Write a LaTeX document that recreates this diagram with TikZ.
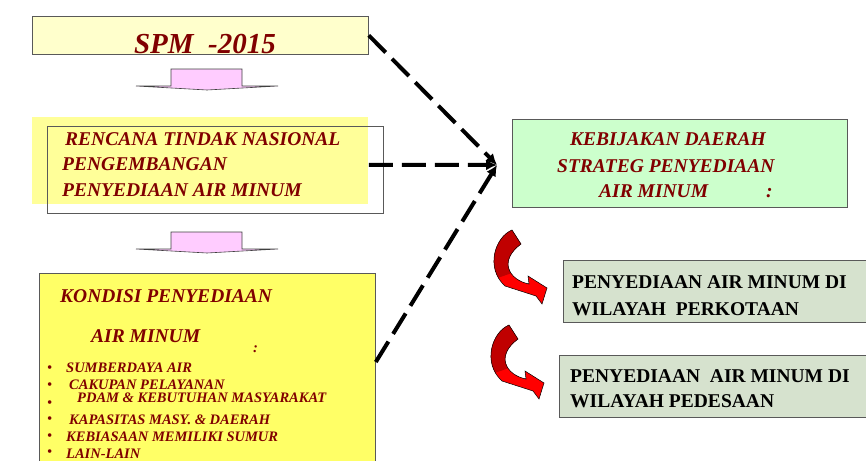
\documentclass[tikz,border=0pt]{standalone}
\usepackage{fontspec}
\setmainfont{Liberation Serif}
\usetikzlibrary{arrows.meta, calc, positioning}
\definecolor{spmyellow}{RGB}{255,255,204}
\definecolor{rtnyellow}{RGB}{255,255,153}
\definecolor{kondyellow}{RGB}{255,255,102}
\definecolor{kebgreen}{RGB}{204,255,204}
\definecolor{wilgray}{RGB}{214,226,206}
\definecolor{arrowpink}{RGB}{255,204,255}
\definecolor{textmaroon}{RGB}{128,0,0}
\definecolor{arrowred}{RGB}{255,0,0}
\definecolor{arrowdark}{RGB}{192,0,0}

\tikzset{
  box/.style={draw=black!65, line width=0.8pt, anchor=north west, inner sep=0pt},
  rtext/.style={anchor=base west, inner sep=0pt, text=textmaroon, font=\fontsize{19.5}{22}\selectfont\bfseries\itshape},
  btext/.style={anchor=base west, inner sep=0pt, text=textmaroon, font=\fontsize{14.5}{16}\selectfont\bfseries\itshape},
  ktext/.style={anchor=base west, inner sep=0pt, font=\fontsize{19.5}{22}\selectfont\bfseries},
  dashlink/.style={line width=4pt, dash pattern=on 24pt off 9pt, -{Latex[length=11pt,width=11pt]}},
  bendshape/.style={insert path={(24,7) .. controls (7,14) and (-3,45) .. (17,63) -- (48,73) -- (54,81) -- (59,65) -- (40,53) -- (41,61) .. controls (21,57) and (10,38) .. (33,21) -- cycle}}
}

\begin{document}
\begin{tikzpicture}[x=1pt, y=-1pt]
  \clip (0,0) rectangle (866,460);

  % left column
  \node[box, fill=spmyellow, minimum width=336pt, minimum height=38pt] (spm) at (32,16) {};
  \node[rtext, anchor=base, font=\fontsize{29}{32}\selectfont\bfseries\itshape] (spm-t) at (205,53) {SPM\ \ -2015};

  \node[box, draw=none, fill=rtnyellow, minimum width=336pt, minimum height=87pt] (rencana) at (32,117) {};
  \node[box, minimum width=336pt, minimum height=87pt] (rencana-frame) at (47,126) {};
  \node[rtext] (ren-1) at (65,145) {RENCANA TINDAK NASIONAL};
  \node[rtext] (ren-2) at (62,170) {PENGEMBANGAN};
  \node[rtext] (ren-3) at (62,196) {PENYEDIAAN AIR MINUM};

  \node[box, fill=kondyellow, minimum width=336pt, minimum height=200pt] (kondisi) at (39,273) {};
  \node[rtext] (kon-1) at (60,302) {KONDISI PENYEDIAAN};
  \node[rtext] (kon-2) at (91,342) {AIR MINUM};
  \node[btext] (kon-c) at (253,352) {:};

  \foreach \yy [count=\i] in {372,389,407,423,440,456}
    \node[btext, font=\fontsize{15}{16}\selectfont] (bul\i) at (47,\yy) {\textbullet};
  \node[btext] (item1) at (66,372) {SUMBERDAYA AIR};
  \node[btext] (item2) at (69,389) {CAKUPAN PELAYANAN};
  \node[btext] (item3) at (77,402) {PDAM \& KEBUTUHAN MASYARAKAT};
  \node[btext] (item4) at (69,424) {KAPASITAS MASY. \& DAERAH};
  \node[btext] (item5) at (66,441) {KEBIASAAN MEMILIKI SUMUR};
  \node[btext] (item6) at (66,458) {LAIN-LAIN};

  % pink block arrows
  \foreach \yy in {69,232}
    \draw[fill=arrowpink, draw=black!75, line width=0.6pt]
      (171,\yy) -- (242,\yy) -- (242,\yy+17) -- (278,\yy+17) -- (207,\yy+21)
      -- (136,\yy+17) -- (171,\yy+17) -- cycle;

  % right column
  \node[box, fill=kebgreen, minimum width=335pt, minimum height=88pt] (kebijakan) at (512,119) {};
  \node[rtext] (keb-1) at (570,145) {KEBIJAKAN DAERAH};
  \node[rtext] (keb-2) at (557,172) {STRATEG PENYEDIAAN};
  \node[rtext] (keb-3) at (599,197) {AIR MINUM};
  \node[rtext] (keb-c) at (766,197) {:};

  \node[box, fill=wilgray, minimum width=320pt, minimum height=62pt] (kota) at (563,260) {};
  \node[ktext] (kota-1) at (572,288) {PENYEDIAAN AIR MINUM DI};
  \node[ktext] (kota-2) at (572,315) {WILAYAH\ \ PERKOTAAN};

  \node[box, fill=wilgray, minimum width=320pt, minimum height=62pt] (desa) at (559,355) {};
  \node[ktext] (desa-1) at (570,382) {PENYEDIAAN\ \ AIR MINUM DI};
  \node[ktext] (desa-2) at (570,407) {WILAYAH PEDESAAN};

  % red bent arrows
  \foreach \ox/\oy in {488/223, 485/318} {
    \begin{scope}[shift={(\ox,\oy)}]
      \fill[arrowred, bendshape];
      \begin{scope}
        \clip[bendshape];
        \fill[arrowdark] (-5,-5) -- (45,-5) -- (45,32) -- (24,50) -- (-5,60) -- cycle;
      \end{scope}
      \draw[black, line width=0.5pt, bendshape];
    \end{scope}
  }

  % dashed connectors
  \coordinate (conv) at (497,165);
  \draw[dashlink] (spm.east) -- (conv);
  \draw[dashlink] ([yshift=-4pt]rencana.east) -- (conv);
  \draw[dashlink] ([yshift=-89pt]kondisi.north east) -- (conv);
\end{tikzpicture}
\end{document}
